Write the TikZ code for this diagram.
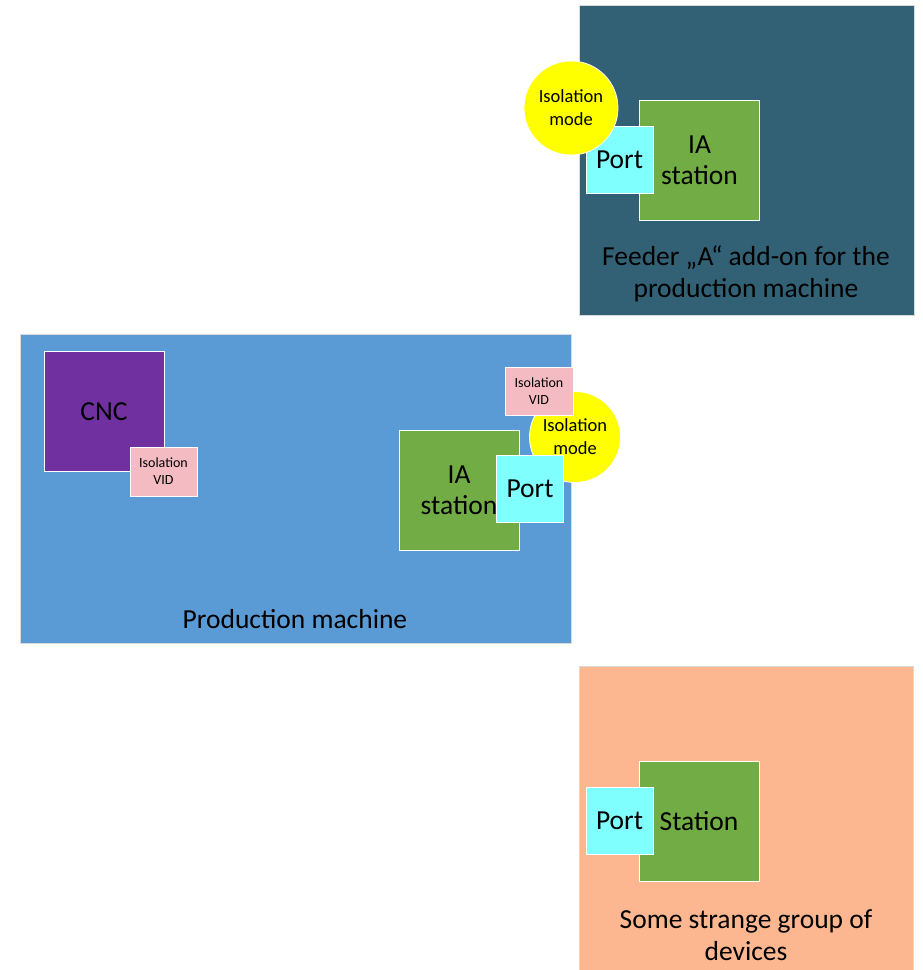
\documentclass[tikz,border=0pt]{standalone}
\usepackage{fontspec}
\setmainfont{Carlito}
\definecolor{feederfill}{RGB}{50,97,118}
\definecolor{machinefill}{RGB}{91,155,213}
\definecolor{groupfill}{RGB}{252,183,145}
\definecolor{stationfill}{RGB}{114,172,68}
\definecolor{portfill}{RGB}{128,255,255}
\definecolor{cncfill}{RGB}{112,48,160}
\definecolor{vidfill}{RGB}{245,187,195}
\definecolor{modefill}{RGB}{255,255,0}
\tikzset{
  groupbox/.style={rectangle, draw=white!85!black, line width=0.6pt, inner sep=0pt},
  grouplabel/.style={align=center, font=\fontsize{27.5}{32}\selectfont, text=black},
  stationbox/.style={rectangle, draw=white, line width=0.8pt, fill=stationfill,
    minimum width=120pt, minimum height=120pt, inner sep=0pt, align=center,
    font=\fontsize{27.5}{31}\selectfont},
  portbox/.style={rectangle, draw=white, line width=0.8pt, fill=portfill,
    minimum width=67pt, minimum height=67pt, inner sep=0pt,
    font=\fontsize{27.5}{31}\selectfont},
  cncbox/.style={rectangle, draw=white, line width=0.8pt, fill=cncfill,
    minimum width=120pt, minimum height=120pt, inner sep=0pt,
    font=\fontsize{27.5}{31}\selectfont},
  vidbox/.style={rectangle, draw=white, line width=0.8pt, fill=vidfill,
    minimum width=67pt, minimum height=49pt, inner sep=0pt, align=center,
    font=\fontsize{14}{17}\selectfont},
  modecircle/.style={circle, draw=white, line width=0.8pt, fill=modefill,
    minimum size=94pt, inner sep=0pt, align=center,
    font=\fontsize{18.5}{23}\selectfont},
}
\begin{document}
\begin{tikzpicture}[x=1pt,y=-1pt]
\useasboundingbox (0,0) rectangle (922,970);
\fill[white] (0,0) rectangle (922,970);

% Feeder add-on group
\node[groupbox, fill=feederfill, minimum width=335pt, minimum height=310pt] (feeder) at (746.5,160) {};
\node[stationbox] (iaA) at (699.5,160.5) {IA\\station};
\node[portbox] (portA) at (619.5,159.5) {Port};
\node[modecircle] (modeA) at (571,108) {Isolation\\mode};
\node[grouplabel] (feederlbl) at (746,274) {Feeder „A“ add-on for the\\production machine};

% Production machine group
\node[groupbox, fill=machinefill, minimum width=551pt, minimum height=309pt] (machine) at (295.5,488.5) {};
\node[cncbox] (cnc) at (104,411.5) {CNC};
\node[vidbox] (vidC) at (163.5,471.5) {Isolation\\VID};
\node[stationbox] (iaP) at (459,490) {IA\\station};
\node[modecircle, minimum size=91pt] (modeP) at (575,437) {Isolation\\mode};
\node[portbox] (portP) at (530,489) {Port};
\node[vidbox, minimum width=68pt, minimum height=48pt] (vidP) at (539,391) {Isolation\\VID};
\node[grouplabel] (machinelbl) at (295,619) {Production machine};

% Unknown device group
\node[groupbox, fill=groupfill, minimum width=334pt, minimum height=310pt] (strange) at (746,821) {};
\node[stationbox] (stB) at (699,821) {Station};
\node[portbox] (portB) at (619.5,821) {Port};
\node[grouplabel] (strangelbl) at (746,935) {Some strange group of\\devices};
\end{tikzpicture}
\end{document}
